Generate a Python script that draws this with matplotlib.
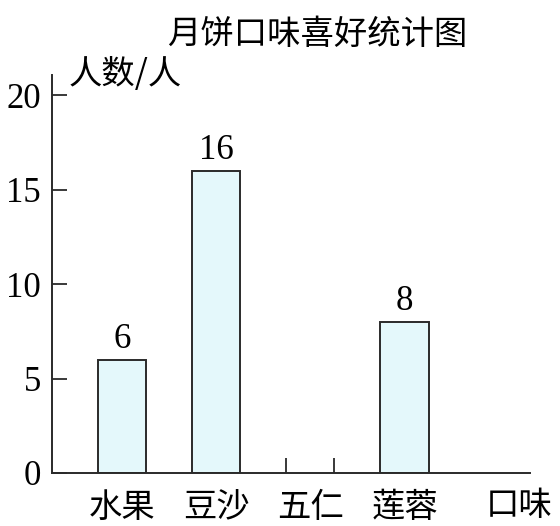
import numpy as np
import matplotlib.pyplot as plt

categories = ["水果", "豆沙", "五仁", "莲蓉"]
counts = [6, 16, None, 8]
y_ticks = [0, 5, 10, 15, 20]

title = "月饼口味喜好统计图"
y_label = "人数/人"
x_label = "口味"

cjk = ["Noto Sans CJK SC", "DejaVu Sans"]
serif = ["Liberation Serif", "DejaVu Serif"]

bar_width = 0.51
bar_color = "#e4f8fb"
edge_color = "#2a2a2a"

fig = plt.figure(figsize=(5.6, 5.26), dpi=100)
ax = fig.add_axes([0.093, 0.1008, 0.853, 0.756])

x = np.arange(len(categories))
for xi, value in zip(x, counts):
    if value is None:
        # blank bar: only the two stub marks at its edges
        ax.vlines([xi - bar_width / 2, xi + bar_width / 2], 0, 0.8,
                  color=edge_color, linewidth=1.3)
        continue
    ax.bar(xi, value, width=bar_width, color=bar_color,
           edgecolor=edge_color, linewidth=1.4)
    ax.text(xi, value + 0.2, str(value), ha="center", va="bottom",
            family=serif, fontsize=25)

ax.set_xlim(-0.742, 4.33)
ax.set_ylim(0, 21.06)

ax.spines["top"].set_visible(False)
ax.spines["right"].set_visible(False)
for s in ("left", "bottom"):
    ax.spines[s].set_linewidth(1.4)
    ax.spines[s].set_color(edge_color)

ax.set_yticks(y_ticks)
ax.set_yticklabels([str(t) for t in y_ticks], family=serif, fontsize=25)
ax.tick_params(axis="y", direction="in", length=11, width=1.3,
               color=edge_color, pad=8)
ax.set_xticks(x)
ax.set_xticklabels(categories, family=cjk, fontsize=24)
ax.tick_params(axis="x", length=0, pad=12)

fig.text(0.567, 0.935, title, ha="center", va="center", family=cjk, fontsize=24)
fig.text(0.122, 0.859, y_label, ha="left", va="center", family=cjk, fontsize=24)
ax.text(4.22, -0.038, x_label, transform=ax.get_xaxis_transform(),
        ha="center", va="top", family=cjk, fontsize=24)

fig.savefig("out.png", dpi=100)
